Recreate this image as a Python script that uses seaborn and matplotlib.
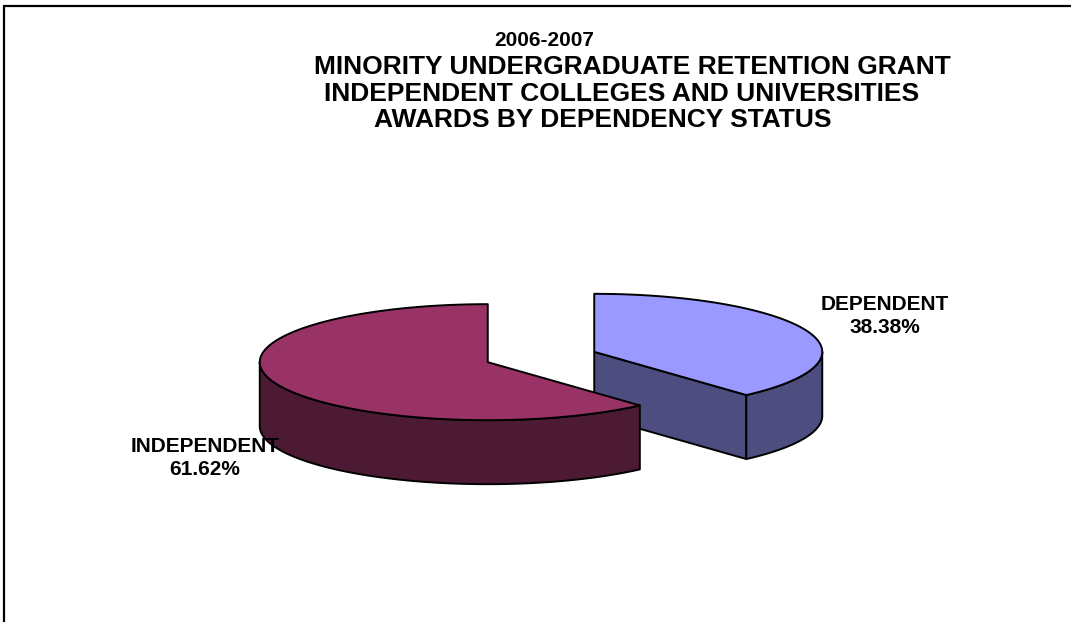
"""
3-D style exploded pie: MURG awards by dependency status, 2006-2007.
"""

import matplotlib

matplotlib.use("Agg")
import matplotlib.pyplot as plt
import numpy as np
import seaborn as sns
from matplotlib.lines import Line2D
from matplotlib.patches import Polygon


# data
YEAR = "2006-2007"
TITLE_LINES = [
    "MINORITY UNDERGRADUATE RETENTION GRANT",
    "INDEPENDENT COLLEGES AND UNIVERSITIES",
    "AWARDS BY DEPENDENCY STATUS",
]
CATEGORIES = ["DEPENDENT", "INDEPENDENT"]
SHARES = [38.38, 61.62]
TOP_COLORS = ["#9999FF", "#993366"]
SIDE_COLORS = ["#4D4D80", "#4C1A33"]

# layout (pixel coordinates, y pointing down)
FIG_W, FIG_H = 1071, 622
CENTER = (541, 357)
RX, RY = 228, 58
DEPTH = 64
EXPLODE = 0.25
TITLE_POS = [(632, 67), (622, 94), (603, 120)]
YEAR_POS = (544, 40)
LABEL_POS = {"DEPENDENT": (885, 316), "INDEPENDENT": (205, 458)}
FONT = ["Liberation Sans", "DejaVu Sans"]


def rim(cx, cy, thetas, drop=0.0):
    """Points on the ellipse, angle measured clockwise from 12 o'clock."""
    return np.column_stack([cx + RX * np.sin(thetas), cy - RY * np.cos(thetas) + drop])


def draw_slice(ax, cx, cy, t0, t1, top_color, side_color):
    edge = dict(edgecolor="black", linewidth=1.4, joinstyle="round")

    # radial faces that look towards the viewer
    for t, normal in ((t0, t0 - np.pi / 2), (t1, t1 + np.pi / 2)):
        if np.cos(normal) < -1e-6:
            p = rim(cx, cy, np.array([t]))[0]
            face = [(cx, cy), tuple(p), (p[0], p[1] + DEPTH), (cx, cy + DEPTH)]
            ax.add_patch(Polygon(face, closed=True, facecolor=side_color, **edge))

    # outer wall, only the front half is visible
    a = max(t0, np.pi / 2)
    b = min(t1, 3 * np.pi / 2)
    if b > a:
        ts = np.linspace(a, b, 120)
        wall = np.vstack([rim(cx, cy, ts), rim(cx, cy, ts[::-1], DEPTH)])
        ax.add_patch(Polygon(wall, closed=True, facecolor=side_color, **edge))

    # top face
    ts = np.linspace(t0, t1, 240)
    top = np.vstack([[cx, cy], rim(cx, cy, ts)])
    ax.add_patch(Polygon(top, closed=True, facecolor=top_color, **edge))


def main():
    sns.set_style("white")
    plt.rcParams["font.family"] = FONT
    plt.rcParams["text.color"] = "black"

    fig = plt.figure(figsize=(FIG_W / 100, FIG_H / 100), dpi=100)
    ax = fig.add_axes([0, 0, 1, 1])
    ax.set_xlim(0, FIG_W)
    ax.set_ylim(FIG_H, 0)
    ax.axis("off")

    fractions = np.array(SHARES) / sum(SHARES)
    ends = np.cumsum(fractions) * 2 * np.pi
    starts = ends - fractions * 2 * np.pi

    slices = []
    for i, cat in enumerate(CATEGORIES):
        mid = (starts[i] + ends[i]) / 2
        cx = CENTER[0] + EXPLODE * RX * np.sin(mid)
        cy = CENTER[1] - EXPLODE * RY * np.cos(mid)
        slices.append((cy, cx, i))

    # paint back slices first
    for cy, cx, i in sorted(slices):
        draw_slice(ax, cx, cy, starts[i], ends[i], TOP_COLORS[i], SIDE_COLORS[i])

    for cat, share in zip(CATEGORIES, SHARES):
        x, y = LABEL_POS[cat]
        ax.text(x, y, f"{cat}\n{share:.2f}%", ha="center", va="center",
                multialignment="center", fontsize=15, fontweight="bold",
                color="black", linespacing=1.3, zorder=5)

    ax.text(*YEAR_POS, YEAR, ha="center", va="center", fontsize=15,
            fontweight="bold", color="black")
    for (x, y), line in zip(TITLE_POS, TITLE_LINES):
        ax.text(x, y, line, ha="center", va="center", fontsize=19,
                fontweight="bold", color="black")

    # chart-area border (top and left edges show in the crop)
    fig.add_artist(Line2D([4 / FIG_W, 1], [1 - 6 / FIG_H] * 2,
                          transform=fig.transFigure, color="black", linewidth=1.6))
    fig.add_artist(Line2D([4 / FIG_W] * 2, [0, 1 - 6 / FIG_H],
                          transform=fig.transFigure, color="black", linewidth=1.6))

    fig.savefig("out.png", dpi=100, facecolor="white")
    plt.close(fig)


if __name__ == "__main__":
    main()
